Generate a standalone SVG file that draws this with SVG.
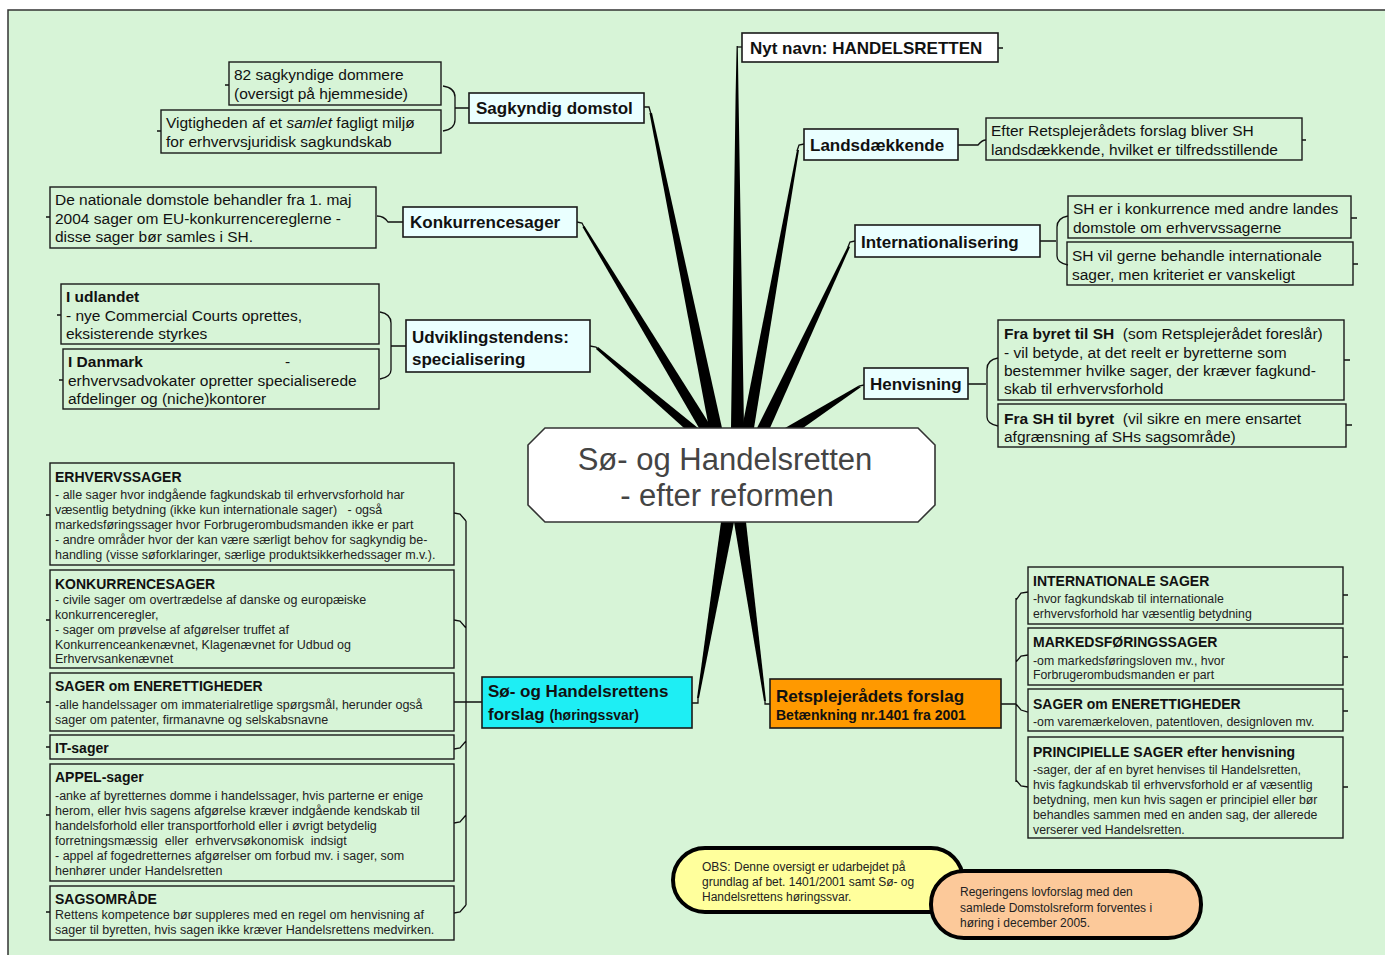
<svg xmlns="http://www.w3.org/2000/svg" width="1385" height="955" viewBox="0 0 1385 955">
<style>
.frame{fill:#d7f4d7;stroke:#333;stroke-width:1.5}
.main{fill:#eaffff;stroke:#1a1a1a;stroke-width:1.6}
.white{fill:#fff;stroke:#1a1a1a;stroke-width:1.6}
.leaf{fill:none;stroke:#1a1a1a;stroke-width:1.4}
.br{fill:#000}
.hk{fill:none;stroke:#111;stroke-width:1.3}
text{font-family:"Liberation Sans",Arial,sans-serif;fill:#111}
.t17{font-size:17px;font-weight:bold}
.t15{font-size:15.5px}
.tt{font-size:14px;font-weight:bold}
.tb{font-size:12.5px;fill:#222}
.ts{font-size:12.3px;fill:#222}
.tc{font-size:12px;fill:#222}
.title{font-size:31px;fill:#444}
</style>
<rect x="0" y="0" width="1385" height="955" fill="#fff"/>
<rect class="frame" x="8" y="10" width="1390" height="960"/>

<g id="connectors">
  <polygon class="br" points="731,428 744,428 738.5,95 737.8,46 736.6,46 735.6,95"/>
  <polygon class="br" points="709,428 722,428 652,113 649.5,113"/>
  <polygon class="br" points="742,428 754,428 799,150 797,150"/>
  <polygon class="br" points="699,428 712,428 584.5,226 582.5,227"/>
  <polygon class="br" points="757,428 770,428 850,247 848,246"/>
  <polygon class="br" points="684,428 698,428 598,347 596,349"/>
  <polygon class="br" points="785,428 803,428 861,387 858,386"/>
  <polygon class="br" points="721,522 734,522 699,698 697,698"/>
  <polygon class="br" points="734,522 746,522 766,701 764,701"/>
  <path class="hk" d="M737,47 L742,47"/>
  <path class="hk" d="M644,107 L649,107 L651,114"/>
  <path class="hk" d="M804,144 L799,145 L797,151"/>
  <path class="hk" d="M577,222 L582,223 L584,227"/>
  <path class="hk" d="M855,241 L850,242 L848,247"/>
  <path class="hk" d="M590,346 L596,347 L598,349"/>
  <path class="hk" d="M864,385 L859,386 L858,388"/>
  <path class="hk" d="M698,697 L698,703 L692,703"/>
  <path class="hk" d="M765,700 L765,704 L770,704"/>
  <path class="hk" d="M469,108 L455,108 M443,86 Q455,88 455,97 L455,120 Q455,129 443,131"/>
  <path class="hk" d="M403,222 L388,222 Q384,216 377,216"/>
  <path class="hk" d="M406,346 L391,346 M380,312 Q391,314 391,323 L391,370 Q391,377 380,379"/>
  <path class="hk" d="M958,145 L978,145 Q982,140 986,140"/>
  <path class="hk" d="M1040,241 L1056,241 M1068,216 Q1057,218 1057,227 L1057,256 Q1057,263 1068,265"/>
  <path class="hk" d="M968,384 L986,384 M998,358 Q987,360 987,369 L987,417 Q987,424 998,426"/>
  <path class="hk" d="M466,521 L466,905 M454,513 L460,514 L466,521 M454,620 L460,621 L466,628 M454,702 L482,702 M454,749 L460,748 L466,741 M454,823 L460,822 L466,815 M454,913 L460,912 L466,905"/>
  <path class="hk" d="M1016,598 L1016,782 M1028,592 L1021,593 L1016,600 M1028,655 L1021,656 L1016,662 M1000,704 L1016,704 M1016,704 L1021,710 L1028,712 M1016,780 L1021,786 L1028,787"/>
  <path class="hk" d="M225,85 L229,85 M157,131 L161,131 M46,217 L50,217 M57,315 L61,315 M59,380 L63,380 M998,48 L1003,48 M1302,140 L1306,140 M1351,218 L1357,218 M1353,264 L1358,264 M1344,360 L1350,360 M1346,425 L1352,425 M46,515 L50,515 M46,620 L50,620 M46,702 L50,702 M46,747 L50,747 M46,815 L50,815 M46,912 L50,912 M1343,595 L1348,595 M1343,657 L1348,657 M1343,711 L1348,711 M1343,787 L1348,787"/>
</g>

<g id="center">
  <polygon points="545,428 918,428 935,445 935,505 918,522 545,522 528,505 528,445" fill="#fff" stroke="#333" stroke-width="1.6"/>
  <text class="title" x="725" y="470" text-anchor="middle">Sø- og Handelsretten</text>
  <text class="title" x="727" y="506" text-anchor="middle">- efter reformen</text>
</g>

<g id="nyt-navn">
  <rect class="white" x="742" y="33" width="256" height="29"/>
  <text class="t17" x="750" y="54">Nyt navn: HANDELSRETTEN</text>
</g>
<g id="sagkyndig">
  <rect class="main" x="469" y="93" width="175" height="30"/>
  <text class="t17" x="476" y="114">Sagkyndig domstol</text>
</g>
<g id="sagkyndig-1">
  <rect class="leaf" x="229" y="62" width="212" height="43"/>
  <text class="t15" x="234" y="80">82 sagkyndige dommere</text>
  <text class="t15" x="234" y="99">(oversigt på hjemmeside)</text>
</g>
<g id="sagkyndig-2">
  <rect class="leaf" x="161" y="110" width="280" height="43"/>
  <text class="t15" x="166" y="128">Vigtigheden af et <tspan font-style="italic">samlet</tspan> fagligt miljø</text>
  <text class="t15" x="166" y="147">for erhvervsjuridisk sagkundskab</text>
</g>
<g id="landsdaekkende">
  <rect class="main" x="804" y="129" width="154" height="31"/>
  <text class="t17" x="810" y="151">Landsdækkende</text>
</g>
<g id="landsdaekkende-1">
  <rect class="leaf" x="986" y="118" width="316" height="42"/>
  <text class="t15" x="991" y="136">Efter Retsplejerådets forslag bliver SH</text>
  <text class="t15" x="991" y="155">landsdækkende, hvilket er tilfredsstillende</text>
</g>
<g id="konkurrencesager">
  <rect class="main" x="403" y="207" width="174" height="30"/>
  <text class="t17" x="410" y="228">Konkurrencesager</text>
</g>
<g id="konkurrencesager-1">
  <rect class="leaf" x="50" y="187" width="326" height="61"/>
  <text class="t15" x="55" y="205">De nationale domstole behandler fra 1. maj</text>
  <text class="t15" x="55" y="224">2004 sager om EU-konkurrencereglerne -</text>
  <text class="t15" x="55" y="242">disse sager bør samles i SH.</text>
</g>
<g id="internationalisering">
  <rect class="main" x="855" y="225" width="185" height="32"/>
  <text class="t17" x="861" y="248">Internationalisering</text>
</g>
<g id="internationalisering-1">
  <rect class="leaf" x="1068" y="196" width="283" height="42"/>
  <text class="t15" x="1073" y="214">SH er i konkurrence med andre landes</text>
  <text class="t15" x="1073" y="233">domstole om erhvervssagerne</text>
</g>
<g id="internationalisering-2">
  <rect class="leaf" x="1067" y="242" width="286" height="43"/>
  <text class="t15" x="1072" y="261">SH vil gerne behandle internationale</text>
  <text class="t15" x="1072" y="280">sager, men kriteriet er vanskeligt</text>
</g>
<g id="udvikling">
  <rect class="main" x="406" y="320" width="184" height="52"/>
  <text class="t17" x="412" y="343">Udviklingstendens:</text>
  <text class="t17" x="412" y="365">specialisering</text>
</g>
<g id="udvikling-1">
  <rect class="leaf" x="61" y="284" width="318" height="60"/>
  <text class="t15" x="66" y="302" font-weight="bold">I udlandet</text>
  <text class="t15" x="66" y="321">- nye Commercial Courts oprettes,</text>
  <text class="t15" x="66" y="339">eksisterende styrkes</text>
</g>
<g id="udvikling-2">
  <rect class="leaf" x="63" y="349" width="316" height="60"/>
  <text class="t15" x="68" y="367" font-weight="bold">I Danmark</text>
  <text class="t15" x="285" y="367">-</text>
  <text class="t15" x="68" y="386">erhvervsadvokater opretter specialiserede</text>
  <text class="t15" x="68" y="404">afdelinger og (niche)kontorer</text>
</g>
<g id="henvisning">
  <rect class="main" x="864" y="368" width="104" height="31"/>
  <text class="t17" x="870" y="390">Henvisning</text>
</g>
<g id="henvisning-1">
  <rect class="leaf" x="998" y="320" width="346" height="80"/>
  <text class="t15" x="1004" y="339" xml:space="preserve"><tspan font-weight="bold">Fra byret til SH</tspan>  (som Retsplejerådet foreslår)</text>
  <text class="t15" x="1004" y="358">- vil betyde, at det reelt er byretterne som</text>
  <text class="t15" x="1004" y="376">bestemmer hvilke sager, der kræver fagkund-</text>
  <text class="t15" x="1004" y="394">skab til erhvervsforhold</text>
</g>
<g id="henvisning-2">
  <rect class="leaf" x="998" y="404" width="348" height="43"/>
  <text class="t15" x="1004" y="424" xml:space="preserve"><tspan font-weight="bold">Fra SH til byret</tspan>  (vil sikre en mere ensartet</text>
  <text class="t15" x="1004" y="442">afgrænsning af SHs sagsområde)</text>
</g>

<g id="sh-forslag">
  <rect x="482" y="677" width="210" height="51" fill="#1eeef4" stroke="#1a1a1a" stroke-width="1.6"/>
  <text class="t17" x="488" y="697">Sø- og Handelsrettens</text>
  <text class="t17" x="488" y="720">forslag <tspan font-size="14px">(høringssvar)</tspan></text>
</g>
<g id="rp-forslag">
  <rect x="770" y="679" width="231" height="49" fill="#ff9900" stroke="#1a1a1a" stroke-width="1.6"/>
  <text class="t17" x="776" y="702">Retsplejerådets forslag</text>
  <text class="tt" x="776" y="720">Betænkning nr.1401 fra 2001</text>
</g>

<g id="erhvervssager">
  <rect class="leaf" x="50" y="463" width="404" height="102"/>
  <text class="tt" x="55" y="482">ERHVERVSSAGER</text>
  <text class="tb" x="55" y="499">- alle sager hvor indgående fagkundskab til erhvervsforhold har</text>
  <text class="tb" x="55" y="514" xml:space="preserve">væsentlig betydning (ikke kun internationale sager)   - også</text>
  <text class="tb" x="55" y="529">markedsføringssager hvor Forbrugerombudsmanden ikke er part</text>
  <text class="tb" x="55" y="544">- andre områder hvor der kan være særligt behov for sagkyndig be-</text>
  <text class="tb" x="55" y="559">handling (visse søforklaringer, særlige produktsikkerhedssager m.v.).</text>
</g>
<g id="konkurrence-sager">
  <rect class="leaf" x="50" y="570" width="404" height="98"/>
  <text class="tt" x="55" y="589">KONKURRENCESAGER</text>
  <text class="tb" x="55" y="604">- civile sager om overtrædelse af danske og europæiske</text>
  <text class="tb" x="55" y="619">konkurrenceregler,</text>
  <text class="tb" x="55" y="634">- sager om prøvelse af afgørelser truffet af</text>
  <text class="tb" x="55" y="649">Konkurrenceankenævnet, Klagenævnet for Udbud og</text>
  <text class="tb" x="55" y="663">Erhvervsankenævnet</text>
</g>
<g id="enerettigheder-l">
  <rect class="leaf" x="50" y="673" width="404" height="58"/>
  <text class="tt" x="55" y="691">SAGER om ENERETTIGHEDER</text>
  <text class="tb" x="55" y="709">-alle handelssager om immaterialretlige spørgsmål, herunder også</text>
  <text class="tb" x="55" y="724">sager om patenter, firmanavne og selskabsnavne</text>
</g>
<g id="it-sager">
  <rect class="leaf" x="50" y="735" width="404" height="24"/>
  <text class="tt" x="55" y="753">IT-sager</text>
</g>
<g id="appel-sager">
  <rect class="leaf" x="50" y="764" width="404" height="117"/>
  <text class="tt" x="55" y="782">APPEL-sager</text>
  <text class="tb" x="55" y="800">-anke af byretternes domme i handelssager, hvis parterne er enige</text>
  <text class="tb" x="55" y="815">herom, eller hvis sagens afgørelse kræver indgående kendskab til</text>
  <text class="tb" x="55" y="830">handelsforhold eller transportforhold eller i øvrigt betydelig</text>
  <text class="tb" x="55" y="845" xml:space="preserve">forretningsmæssig  eller  erhvervsøkonomisk  indsigt</text>
  <text class="tb" x="55" y="860">- appel af fogedretternes afgørelser om forbud mv. i sager, som</text>
  <text class="tb" x="55" y="875">henhører under Handelsretten</text>
</g>
<g id="sagsomraade">
  <rect class="leaf" x="50" y="886" width="404" height="54"/>
  <text class="tt" x="55" y="904">SAGSOMRÅDE</text>
  <text class="tb" x="55" y="919">Rettens kompetence bør suppleres med en regel om henvisning af</text>
  <text class="tb" x="55" y="934">sager til byretten, hvis sagen ikke kræver Handelsrettens medvirken.</text>
</g>

<g id="internationale-sager">
  <rect class="leaf" x="1028" y="567" width="315" height="57"/>
  <text class="tt" x="1033" y="586">INTERNATIONALE SAGER</text>
  <text class="ts" x="1033" y="603">-hvor fagkundskab til internationale</text>
  <text class="ts" x="1033" y="618">erhvervsforhold har væsentlig betydning</text>
</g>
<g id="markedsfoeringssager">
  <rect class="leaf" x="1028" y="628" width="315" height="57"/>
  <text class="tt" x="1033" y="647">MARKEDSFØRINGSSAGER</text>
  <text class="ts" x="1033" y="665">-om markedsføringsloven mv., hvor</text>
  <text class="ts" x="1033" y="679">Forbrugerombudsmanden er part</text>
</g>
<g id="enerettigheder-r">
  <rect class="leaf" x="1028" y="689" width="315" height="42"/>
  <text class="tt" x="1033" y="709">SAGER om ENERETTIGHEDER</text>
  <text class="ts" x="1033" y="726">-om varemærkeloven, patentloven, designloven mv.</text>
</g>
<g id="principielle">
  <rect class="leaf" x="1028" y="737" width="315" height="101"/>
  <text class="tt" x="1033" y="757">PRINCIPIELLE SAGER efter henvisning</text>
  <text class="ts" x="1033" y="774">-sager, der af en byret henvises til Handelsretten,</text>
  <text class="ts" x="1033" y="789">hvis fagkundskab til erhvervsforhold er af væsentlig</text>
  <text class="ts" x="1033" y="804">betydning, men kun hvis sagen er principiel eller bør</text>
  <text class="ts" x="1033" y="819">behandles sammen med en anden sag, der allerede</text>
  <text class="ts" x="1033" y="834">verserer ved Handelsretten.</text>
</g>

<g id="obs-note">
  <rect x="673" y="848" width="290" height="64" rx="32" fill="#ffff9c" stroke="#000" stroke-width="4"/>
  <text class="tc" x="702" y="871">OBS: Denne oversigt er udarbejdet på</text>
  <text class="tc" x="702" y="886">grundlag af bet. 1401/2001 samt Sø- og</text>
  <text class="tc" x="702" y="901">Handelsrettens høringssvar.</text>
</g>
<g id="regering-note">
  <rect x="931" y="871" width="270" height="67" rx="33" fill="#fcc99a" stroke="#000" stroke-width="4"/>
  <text class="tc" x="960" y="896">Regeringens lovforslag med den</text>
  <text class="tc" x="960" y="912">samlede Domstolsreform forventes i</text>
  <text class="tc" x="960" y="927">høring i december 2005.</text>
</g>
</svg>
